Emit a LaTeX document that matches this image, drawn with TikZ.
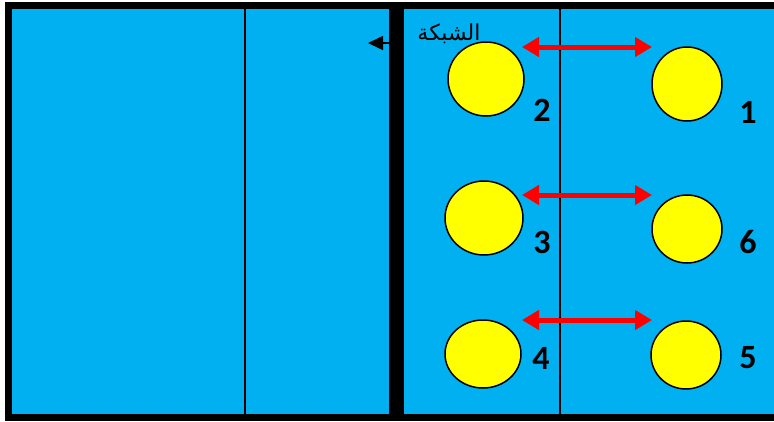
\documentclass[tikz,border=0pt]{standalone}
\usepackage{fontspec}
\usetikzlibrary{arrows.meta,positioning,shapes.geometric}
\setmainfont{Carlito}
\newfontfamily\arabicfont[Script=Arabic]{DejaVu Sans}
\TeXXeTstate=1
\definecolor{Court}{HTML}{00B0F0}
\definecolor{Ball}{HTML}{FFFF00}
\definecolor{Swap}{HTML}{FF0000}
\tikzset{
 player/.style={ellipse,draw=black,fill=Ball,line width=1.5pt,inner sep=0pt},
 num/.style={font=\bfseries\fontsize{34}{34}\selectfont,inner sep=0pt},
 swap/.style={{Triangle[length=17pt,width=19pt]}-{Triangle[length=17pt,width=19pt]},line width=5pt,draw=Swap},
 pointer/.style={-{Triangle[length=15pt,width=14pt]},line width=1.5pt,draw=black},
 line/.style={draw=black,line width=1.5pt}
}
\begin{document}
\begin{tikzpicture}[x=1pt,y=-1pt]
\useasboundingbox (0,0) rectangle (774,421);
% court
\draw[fill=Court,line width=7pt] (8.5,5.5) rectangle (800,417.5);
\coordinate (top1) at (245,9); \coordinate (bot1) at (245,414);
\coordinate (top2) at (560,9); \coordinate (bot2) at (560,414);
\draw[line] (top1)--(bot1);
\draw[line] (top2)--(bot2);
\node[fill=black,inner sep=0pt,minimum width=15pt,minimum height=414pt] (net) at (396.5,211) {};
% net label
\node[font=\arabicfont\fontsize{22}{22}\selectfont,inner sep=0pt] (netlabel) at (449,34) {\beginR الشبكة\endR};
\coordinate (nettip) at (368,43);
\draw[pointer] (net.west|-nettip)--(nettip);
% players
\foreach \name/\x/\y/\w/\h/\nx/\ny in {2/486/79/76/74/542/110,1/687/84/70/74/748/112,3/484/218/78/74/542/242,6/687/229/70/68/748/242,4/483/354/76/68/541/358,5/686/355/70/68/748/358} {
 \node[player,minimum width=\w pt,minimum height=\h pt] (p\name) at (\x,\y) {};
 \node[num] (n\name) at (\nx,\ny) {\name};
}
% swaps
\foreach \row/\y in {a/47,b/195,c/320} {
 \coordinate (l\row) at (522,\y);
 \coordinate (r\row) at (652,\y);
 \draw[swap] (l\row)--(r\row);
}
\end{tikzpicture}
\end{document}
